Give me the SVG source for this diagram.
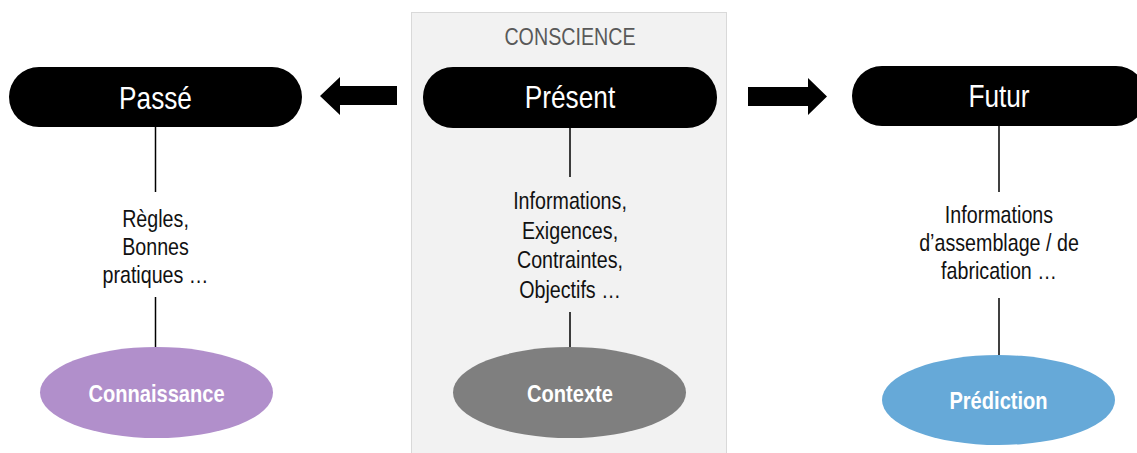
<svg xmlns="http://www.w3.org/2000/svg" width="1137" height="453" viewBox="0 0 1137 453">
<style>
.pill{fill:#000}
.t{font-family:"Liberation Sans",Arial,sans-serif;text-anchor:middle}
.title{font-size:32px;fill:#fff}
.lab{font-size:24px;fill:#111}
.ell{font-size:24.5px;font-weight:bold;fill:#fff}
.ln{stroke:#000;stroke-width:1.5;fill:none}
</style>
<rect x="411.5" y="12.5" width="315" height="450" fill="#f2f2f2" stroke="#d9d9d9" stroke-width="1"/>
<g id="conscience"><text class="t" transform="translate(570,45) scale(0.82,1)" font-size="24" fill="#595959">CONSCIENCE</text></g>

<g id="connectors">
<line class="ln" x1="155.5" y1="127" x2="155.5" y2="192"/>
<line class="ln" x1="155.5" y1="297" x2="155.5" y2="348"/>
<line class="ln" x1="570" y1="128" x2="570" y2="177"/>
<line class="ln" x1="570" y1="312" x2="570" y2="348"/>
<line class="ln" x1="999" y1="126" x2="999" y2="192"/>
<line class="ln" x1="999" y1="298" x2="999" y2="356"/>
<polygon points="397,86 340,86 340,77 320,96 340,115 340,105 397,105" fill="#000"/>
<polygon points="748,87 808,87 808,78 827,96.5 808,115 808,106 748,106" fill="#000"/>
</g>

<g id="passe">
<rect class="pill" x="9" y="67" width="293" height="60" rx="30"/>
<text class="t title" transform="translate(155.5,109) scale(0.82,1)">Passé</text>
</g>
<g id="present">
<rect class="pill" x="423" y="67" width="294" height="61" rx="30"/>
<text class="t title" transform="translate(570,108) scale(0.82,1)">Présent</text>
</g>
<g id="futur">
<rect class="pill" x="852" y="66" width="294" height="60" rx="30"/>
<text class="t title" transform="translate(999,107) scale(0.82,1)">Futur</text>
</g>

<g id="label-passe">
<text class="t lab" transform="translate(155.5,227) scale(0.82,1)">Règles,</text>
<text class="t lab" transform="translate(155.5,255) scale(0.82,1)">Bonnes</text>
<text class="t lab" transform="translate(155.5,283) scale(0.82,1)">pratiques …</text>
</g>
<g id="label-present">
<text class="t lab" transform="translate(570,209) scale(0.82,1)">Informations,</text>
<text class="t lab" transform="translate(570,238.5) scale(0.82,1)">Exigences,</text>
<text class="t lab" transform="translate(570,268) scale(0.82,1)">Contraintes,</text>
<text class="t lab" transform="translate(570,297.5) scale(0.82,1)">Objectifs …</text>
</g>
<g id="label-futur">
<text class="t lab" transform="translate(999,223) scale(0.82,1)">Informations</text>
<text class="t lab" transform="translate(999,251) scale(0.82,1)">d’assemblage / de</text>
<text class="t lab" transform="translate(999,279) scale(0.82,1)">fabrication …</text>
</g>

<g id="connaissance">
<ellipse cx="156.5" cy="392.5" rx="116.5" ry="45.5" fill="#b18fcb"/>
<text class="t ell" transform="translate(156.5,402) scale(0.82,1)">Connaissance</text>
</g>
<g id="contexte">
<ellipse cx="569.5" cy="392.5" rx="116.5" ry="45.5" fill="#7f7f7f"/>
<text class="t ell" transform="translate(570,402) scale(0.82,1)">Contexte</text>
</g>
<g id="prediction">
<ellipse cx="998.5" cy="400" rx="116.5" ry="45" fill="#66a9d8"/>
<text class="t ell" transform="translate(998.5,409) scale(0.82,1)">Prédiction</text>
</g>
</svg>
